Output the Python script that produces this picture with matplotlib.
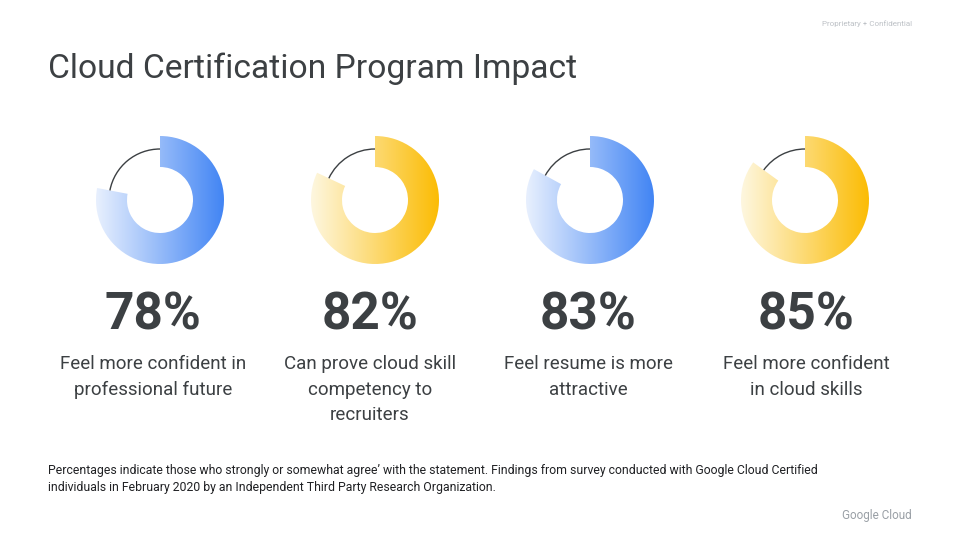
import numpy as np
import matplotlib
matplotlib.use("Agg")
import matplotlib.pyplot as plt
from matplotlib.patches import Wedge, Arc
from matplotlib.colors import LinearSegmentedColormap

# ---- data ----
title = "Cloud Certification Program Impact"
percents = [78, 82, 83, 85]
labels = [
    "Feel more confident in\nprofessional future",
    "Can prove cloud skill\ncompetency to\nrecruiters",
    "Feel resume is more\nattractive",
    "Feel more confident\nin cloud skills",
]
light_colors = ["#E8F0FE", "#FEF7E0", "#E8F0FE", "#FEF7E0"]
dark_colors = ["#4285F4", "#FBBC04", "#4285F4", "#FBBC04"]
footnote = ("Percentages indicate those who strongly or somewhat agree\u2019 with the statement. Findings from survey conducted with Google Cloud Certified\n"
            "individuals in February 2020 by an Independent Third Party Research Organization.")

# ---- layout ----
W, H = 960, 540
FONT = ["Roboto", "DejaVu Sans"]
TXT = "#3c4043"
plt.rcParams['font.family'] = FONT

fig = plt.figure(figsize=(9.6, 5.4), dpi=100)
ax = fig.add_axes([0, 0, 1, 1])
ax.set_xlim(0, W)
ax.set_ylim(0, H)
ax.axis("off")

def Y(y):
    return H - y

donut_cx = [160, 375, 590, 805]
text_cx = [153, 370, 588, 806]
cy = 200
r_out, r_in, r_arc = 64, 33, 51

for i, p in enumerate(percents):
    cx = donut_cx[i]
    cmap = LinearSegmentedColormap.from_list("g%d" % i, [light_colors[i], dark_colors[i]])
    grad = np.linspace(0, 1, 256).reshape(1, -1)
    ext = (cx - r_out, cx + r_out, Y(cy) - r_out, Y(cy) + r_out)
    im = ax.imshow(grad, cmap=cmap, extent=ext, aspect="auto", interpolation="bicubic", zorder=2)
    wedge = Wedge((cx, Y(cy)), r_out, 90 - p / 100 * 360, 90, width=r_out - r_in,
                  transform=ax.transData, facecolor="none", edgecolor="none")
    ax.add_patch(wedge)
    im.set_clip_path(wedge)
    arc = Arc((cx, Y(cy)), 2 * r_arc, 2 * r_arc, theta1=90, theta2=90 + (100 - p) / 100 * 360,
              color="#3c4043", lw=1.0, zorder=3)
    ax.add_patch(arc)

    ax.text(text_cx[i], Y(316), f"{p}%", ha="center", va="center", fontsize=37,
            fontweight="bold", color=TXT)
    ax.text(text_cx[i], Y(355), labels[i], ha="center", va="top", fontsize=13.5,
            color=TXT, linespacing=1.55)

ax.text(48, Y(69), title, ha="left", va="center", fontsize=24.2, color=TXT)
ax.text(912, Y(24), "Proprietary + Confidential", ha="right", va="center", fontsize=5.8, color="#bdc1c6")
ax.text(912, Y(515), "Google Cloud", ha="right", va="center", fontsize=8.5, color="#9aa0a6")
ax.text(48, Y(464), footnote, ha="left", va="top", fontsize=8.85, color="#202124", linespacing=1.45)

fig.savefig("out.png", dpi=100, facecolor="white")
